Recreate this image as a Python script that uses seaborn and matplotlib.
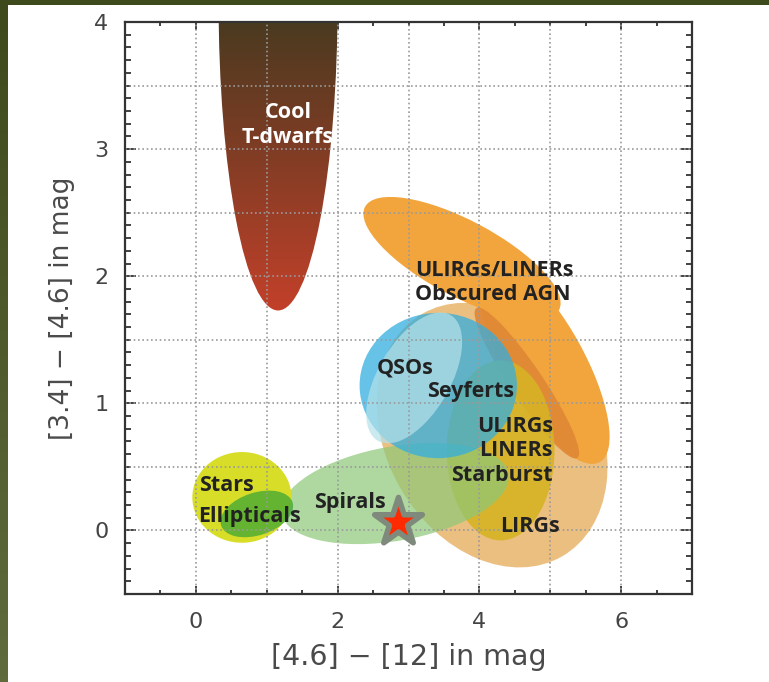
import numpy as np
import matplotlib
matplotlib.use("Agg")
import matplotlib.pyplot as plt
import seaborn as sns
from matplotlib.patches import Ellipse, Rectangle
from matplotlib.transforms import Affine2D
from matplotlib.colors import LinearSegmentedColormap
from matplotlib.ticker import MultipleLocator

# region blobs: centre (data), size in x-units (equal-pixel space), angle in degrees
shape_names = ['lirgs', 'agn_upper', 'agn_lower', 'agn_core', 'starburst',
               'spirals', 'qsos', 'qso_core', 'stars', 'ellipticals']
shape_x = [4.18, 3.755, 4.91, 4.67, 4.30, 2.81, 3.42, 3.08, 0.65, 0.86]
shape_y = [0.75, 2.14, 1.33, 1.16, 0.63, 0.29, 1.14, 1.20, 0.26, 0.13]
shape_w = [3.95, 3.10, 3.25, 2.55, 1.52, 3.25, 2.22, 2.05, 1.40, 1.06]
shape_h = [2.99, 1.07, 1.12, 0.46, 2.54, 1.33, 2.05, 1.02, 1.28, 0.60]
shape_angle = [-60, -28, -61, -56, 0, 10, 0, 60, 0, 18]
shape_colors = ['#e9b872', '#f2a53c', '#f2a53c', '#e08736', '#d6b324',
                '#8cc878', '#34aee0', '#b5e2ea', '#d8dd28', '#3da535']
shape_alpha = [0.9, 1.0, 1.0, 0.9, 0.9, 0.7, 0.75, 0.7, 1.0, 0.75]

# cool T-dwarfs (gradient filled)
tdwarf_x, tdwarf_y, tdwarf_w, tdwarf_h = 1.16, 4.17, 1.68, 8.75
tdwarf_colors = ['#c3402a', '#4a3a20']

label_text = ['Cool\nT-dwarfs', 'ULIRGs/LINERs\nObscured AGN', 'QSOs', 'Seyferts',
              'ULIRGs\nLINERs\nStarburst', 'Stars', 'Ellipticals', 'Spirals', 'LIRGs']
label_x = [1.30, 3.09, 2.95, 3.87, 5.04, 0.04, 0.03, 2.18, 4.72]
label_y = [3.19, 1.95, 1.28, 1.09, 0.625, 0.357, 0.113, 0.22, 0.03]
label_ha = ['center', 'left', 'center', 'center', 'right', 'left', 'left', 'center', 'center']
label_color = ['white'] + ['#222222'] * 8

star_x = [2.85]
star_y = [0.066]

sns.set_style("ticks")
plt.rcParams['font.family'] = ['DejaVu Sans']

W, H = 769, 682
fig = plt.figure(figsize=(W / 100, H / 100), dpi=100)
fig.patch.set_facecolor('white')

# olive frame strips
fig.patches.append(Rectangle((0, 1 - 5 / H), 1, 5 / H, transform=fig.transFigure,
                             fc='#3e4a1c', ec='none', zorder=0))
band = fig.add_axes([0, 0, 8 / W, 1 - 5 / H])
band.imshow(np.linspace(0, 1, 100).reshape(-1, 1), aspect='auto',
            cmap=LinearSegmentedColormap.from_list('b', ['#3e4a1c', '#606b3d']))
band.axis('off')

ax_l, ax_b, ax_w, ax_h = 125 / W, 88 / H, 567 / W, 572 / H
ax = fig.add_axes([ax_l, ax_b, ax_w, ax_h])
xmin, xmax, ymin, ymax = -1, 7, -0.5, 4
ax.set_xlim(xmin, xmax)
ax.set_ylim(ymin, ymax)

K = (ax_h * H / (ymax - ymin)) / (ax_w * W / (xmax - xmin))
scaled = Affine2D().scale(1, 1 / K) + ax.transData

for i, name in enumerate(shape_names):
    e = Ellipse((shape_x[i], shape_y[i] * K), shape_w[i], shape_h[i],
                angle=shape_angle[i], transform=scaled, fc=shape_colors[i],
                ec='none', alpha=shape_alpha[i], zorder=2 + i * 0.1)
    ax.add_patch(e)

td = Ellipse((tdwarf_x, tdwarf_y * K), tdwarf_w, tdwarf_h, transform=scaled,
             fc='none', ec='none')
ax.add_patch(td)
im = ax.imshow(np.linspace(0, 1, 256).reshape(-1, 1), origin='lower',
               extent=[xmin, xmax, 1.72, ymax], aspect='auto', zorder=3.5,
               cmap=LinearSegmentedColormap.from_list('td', tdwarf_colors))
im.set_clip_path(td)
ax.set_xlim(xmin, xmax)
ax.set_ylim(ymin, ymax)

# dotted grid drawn over the regions
for gx in np.arange(xmin, xmax + 1, 1):
    ax.axvline(gx, color='#9a9a9a', lw=1.2, ls=(0, (1, 1.6)), zorder=4)
for gy in np.arange(ymin, ymax + 0.5, 0.5):
    ax.axhline(gy, color='#9a9a9a', lw=1.2, ls=(0, (1, 1.6)), zorder=4)

for i, t in enumerate(label_text):
    ax.text(label_x[i], label_y[i], t, ha=label_ha[i], va='center', color=label_color[i],
            fontsize=15.5, fontweight='bold', family=['Open Sans', 'DejaVu Sans'],
            linespacing=1.2, zorder=6)

sns.scatterplot(x=star_x, y=star_y, ax=ax, marker='*', s=1300, color='#ff2a00',
                edgecolor='#7f8a7c', linewidth=4, zorder=7)
ax.collections[-1].set_joinstyle('round')

ax.xaxis.set_major_locator(MultipleLocator(2))
ax.xaxis.set_minor_locator(MultipleLocator(0.5))
ax.yaxis.set_major_locator(MultipleLocator(1))
ax.yaxis.set_minor_locator(MultipleLocator(0.1))
ax.tick_params(which='both', direction='in', top=True, right=True, colors='#333333',
               labelcolor='#444444', labelsize=16, width=1.3)
ax.tick_params(axis='x', which='major', length=6, pad=13)
ax.tick_params(axis='x', which='minor', length=3)
ax.tick_params(axis='y', which='major', length=8, pad=12)
ax.tick_params(axis='y', which='minor', length=4)
for s in ax.spines.values():
    s.set_color('#333333')
    s.set_linewidth(1.6)
    s.set_zorder(8)

ax.set_xlabel('[4.6] \u2212 [12] in mag', fontsize=20.5, color='#4a4a4a', labelpad=8)
ax.set_ylabel('[3.4] \u2212 [4.6] in mag', fontsize=19, color='#4a4a4a', labelpad=14)

fig.savefig('out.png', dpi=100)
